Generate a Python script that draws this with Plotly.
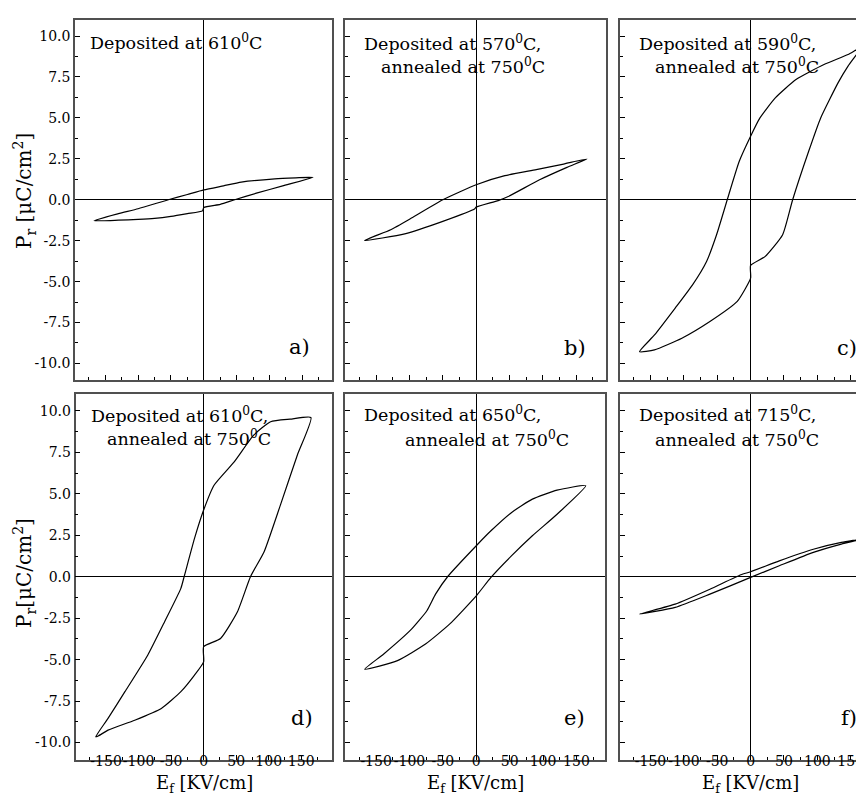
import plotly.graph_objects as go

# ---------------- data (E in kV/cm, P in uC/cm^2) ----------------
A_E = [-167, -130, -100, -54, -25, 0, 30, 57, 108, 140, 166,
       120, 80, 47, 25, 0, -2, -25, -50, -75, -100, -130, -167]
A_P = [-1.28, -0.85, -0.55, 0.0, 0.32, 0.6, 0.85, 1.08, 1.28, 1.34, 1.37,
       0.85, 0.4, 0.0, -0.28, -0.47, -0.68, -0.85, -1.02, -1.14, -1.2, -1.25, -1.28]

B_E = [-167, -128, -97, -50, 0, 43, 90, 131, 166,
       136, 95, 48, 33, 0, -2, -50, -107, -167]
B_P = [-2.49, -1.83, -1.12, 0.0, 0.92, 1.47, 1.84, 2.18, 2.49,
       1.98, 1.22, 0.2, -0.05, -0.45, -0.55, -1.32, -2.08, -2.49]

C_E = [-166.5, -144, -113, -87, -66, -51, -35, -17, 0, 14, 37, 68, 110, 146, 166,
       146, 131, 105, 87, 63, 48, 22, 0, 0, -20, -61, -103, -144, -166.5]
C_P = [-9.28, -8.26, -6.62, -5.2, -3.77, -2.14, 0.0, 2.35, 3.88, 5.0, 6.22, 7.34, 8.26, 8.87, 9.32,
       8.16, 7.14, 5.0, 2.96, 0.0, -2.14, -3.46, -4.01, -4.79, -6.21, -7.44, -8.46, -9.17, -9.28]

D_E = [-166, -147, -121, -86, -60, -35, -30, -14, 0, 16, 47, 77, 103, 133, 165,
       144, 118, 93, 72, 52, 26, 0, 0, -14, -35, -65, -106, -147, -162, -166]
D_P = [-9.65, -8.54, -6.93, -4.73, -2.71, -0.7, 0.0, 2.31, 4.02, 5.52, 6.93, 8.54, 9.35, 9.5, 9.6,
       7.33, 4.32, 1.51, 0.0, -2.11, -3.72, -4.22, -5.13, -5.93, -6.93, -7.94, -8.65, -9.25, -9.6, -9.65]

E_E = [-167, -139, -97, -74, -61, -43, 0, 22, 53, 84, 121, 164,
       121, 84, 53, 22, 0, -40, -76, -118, -167]
E_P = [-5.57, -4.67, -3.16, -2.05, -1.05, 0.0, 1.87, 2.77, 3.88, 4.68, 5.22, 5.49,
       3.77, 2.47, 1.27, -0.04, -1.15, -2.86, -4.06, -5.06, -5.57]

F_E = [-166.5, -113, -61, -14.5, 0, 43, 94, 136, 167,
       136, 94, 43, 0, -61, -113, -166.5]
F_P = [-2.25, -1.65, -0.75, 0.12, 0.3, 0.96, 1.66, 2.07, 2.27,
       1.97, 1.47, 0.66, -0.04, -1.05, -1.85, -2.25]

PANEL_E = [A_E, B_E, C_E, D_E, E_E, F_E]
PANEL_P = [A_P, B_P, C_P, D_P, E_P, F_P]
PANEL_LETTERS = ["a)", "b)", "c)", "d)", "e)", "f)"]
PANEL_LINE1 = ["Deposited at 610<sup>0</sup>C", "Deposited at 570<sup>0</sup>C,",
               "Deposited at 590<sup>0</sup>C,", "Deposited at 610<sup>0</sup>C,",
               "Deposited at 650<sup>0</sup>C,", "Deposited at 715<sup>0</sup>C,"]
PANEL_LINE2 = ["", "annealed at 750<sup>0</sup>C", "annealed at 750<sup>0</sup>C",
               "annealed at 750<sup>0</sup>C", "annealed at 750<sup>0</sup>C",
               "annealed at 750<sup>0</sup>C"]

Y_TICKS = [-10, -7.5, -5, -2.5, 0, 2.5, 5, 7.5, 10]
Y_TICK_TEXT = ["-10.0", "-7.5", "-5.0", "-2.5", "0.0", "2.5", "5.0", "7.5", "10.0"]
Y_MINOR = [-8.75, -6.25, -3.75, -1.25, 1.25, 3.75, 6.25, 8.75]
X_TICKS = [-150, -100, -50, 0, 50, 100, 150]
X_TICK_TEXT = ["-150", "-100", "-50", "0", "50", "100", "150"]
X_MINOR = [-175, -125, -75, -25, 25, 75, 125, 175]

X_TITLE = "E<sub>f</sub> [KV/cm]"
Y_TITLE_TOP = "P<sub>r</sub> [\u03bcC/cm<sup>2</sup>]"
Y_TITLE_BOT = "P<sub>r</sub>[\u03bcC/cm<sup>2</sup>]"

# ---------------- layout geometry (pixels) ----------------
W, H = 864, 794
FONT = "DejaVu Serif"
col_px = [(67, 324), (337, 598), (612, 864), (67.5, 323.5), (337, 597), (612, 864)]
row_px = [(12, 371.5)] * 3 + [(385.5, 752)] * 3
x_ranges = [[-196, 195], [-196.5, 194.5], [-195.7, 181.9],
            [-197, 196.6], [-196.6, 192.8], [-195.7, 181.9]]
y_ranges = [[-10.98, 10.98]] * 3 + [[-11.05, 11.05]] * 3
line1_pos = [(80, 34), (354, 35), (628.5, 35), (80.7, 407), (354, 406), (628.5, 406)]
line2_pos = [None, (371, 58), (645, 58), (96.7, 430), (395, 431), (645, 431)]
letter_pos = [(304, 339), (580, 340), (851, 340), (307, 710), (579, 710), (851, 710)]


def px(x):
    return x / W


def py(y):
    return 1 - y / H


fig = go.Figure()
layout = dict(
    width=W, height=H,
    margin=dict(l=0, r=0, t=0, b=0),
    paper_bgcolor="white", plot_bgcolor="white",
    showlegend=False,
    font=dict(family=FONT, color="black", size=14),
)
annotations = []
FRAME = "#505050"

for i in range(6):
    n = i + 1
    xa = "xaxis" if n == 1 else f"xaxis{n}"
    ya = "yaxis" if n == 1 else f"yaxis{n}"
    xr = "x" if n == 1 else f"x{n}"
    yr = "y" if n == 1 else f"y{n}"
    fig.add_trace(go.Scatter(x=PANEL_E[i], y=PANEL_P[i], mode="lines",
                             line=dict(color="black", width=1.2, shape="spline", smoothing=0.5),
                             xaxis=xr, yaxis=yr, hoverinfo="skip"))
    bottom = i >= 3
    left = i in (0, 3)
    layout[xa] = dict(
        domain=[px(col_px[i][0]), px(col_px[i][1])], anchor=yr,
        range=x_ranges[i], showgrid=False,
        zeroline=True, zerolinecolor="black", zerolinewidth=1,
        showline=True, linecolor=FRAME, linewidth=1.5, mirror=True,
        ticks="inside", ticklen=5, tickwidth=1, tickcolor="black",
        tickmode="array", tickvals=X_TICKS, ticktext=X_TICK_TEXT,
        showticklabels=bottom, tickangle=0, ticklabelstandoff=-13,
        tickfont=dict(family=FONT, size=14),
        minor=dict(ticks="inside", ticklen=3, tickwidth=1, tickcolor="black",
                   tickmode="array", tickvals=X_MINOR),
        automargin=False,
    )
    layout[ya] = dict(
        domain=[py(row_px[i][1]), py(row_px[i][0])], anchor=xr,
        range=y_ranges[i], showgrid=False,
        zeroline=True, zerolinecolor="black", zerolinewidth=1,
        showline=True, linecolor=FRAME, linewidth=1.5,
        mirror=(i not in (2, 5)),
        ticks="inside", ticklen=5, tickwidth=1, tickcolor="black",
        tickmode="array", tickvals=Y_TICKS, ticktext=Y_TICK_TEXT,
        showticklabels=left, tickfont=dict(family=FONT, size=14),
        minor=dict(ticks="inside", ticklen=3, tickwidth=1, tickcolor="black",
                   tickmode="array", tickvals=Y_MINOR),
        automargin=False,
    )
    annotations.append(dict(text=PANEL_LINE1[i], x=px(line1_pos[i][0]), y=py(line1_pos[i][1]),
                            xref="paper", yref="paper", xanchor="left", yanchor="middle",
                            showarrow=False, font=dict(family=FONT, size=17.5)))
    if PANEL_LINE2[i]:
        annotations.append(dict(text=PANEL_LINE2[i], x=px(line2_pos[i][0]), y=py(line2_pos[i][1]),
                                xref="paper", yref="paper", xanchor="left", yanchor="middle",
                                showarrow=False, font=dict(family=FONT, size=17.5)))
    annotations.append(dict(text=PANEL_LETTERS[i], x=px(letter_pos[i][0]), y=py(letter_pos[i][1]),
                            xref="paper", yref="paper", xanchor="right", yanchor="middle",
                            showarrow=False, font=dict(family=FONT, size=21)))

# axis titles
for xc in (196, 468, 742.6):
    annotations.append(dict(text=X_TITLE, x=px(xc), y=py(776), xref="paper", yref="paper",
                            xanchor="center", yanchor="middle", showarrow=False,
                            font=dict(family=FONT, size=18)))
annotations.append(dict(text=Y_TITLE_TOP, x=px(16), y=py(183), xref="paper", yref="paper",
                        xanchor="center", yanchor="middle", textangle=-90, showarrow=False,
                        font=dict(family=FONT, size=20)))
annotations.append(dict(text=Y_TITLE_BOT, x=px(16), y=py(565), xref="paper", yref="paper",
                        xanchor="center", yanchor="middle", textangle=-90, showarrow=False,
                        font=dict(family=FONT, size=20)))

layout["annotations"] = annotations
fig.update_layout(**layout)
fig.write_html("out.html")
